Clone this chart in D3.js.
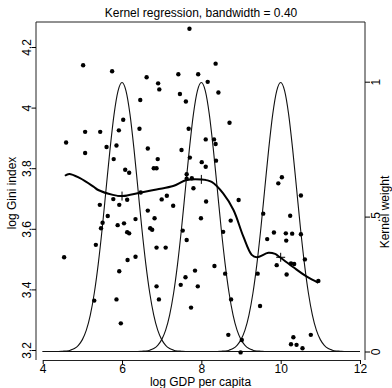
<!DOCTYPE html>
<html>
<head>
<meta charset="utf-8">
<script src="https://cdn.jsdelivr.net/npm/d3@7"></script>
<style>
  body { margin: 0; background: #fff; }
  svg { display: block; font-family: "Liberation Sans", Arial, Helvetica, sans-serif; }
  .axis text { font-size: 12px; fill: #000; }
  .axis line { stroke: #000; }
</style>
</head>
<body>
<div id="chart"></div>
<script>
// scatter: log GDP per capita vs log Gini index
var gdp = [7.70, 5.02, 5.75, 6.62, 7.42, 6.91, 6.94, 7.46, 7.61, 6.46,
           6.03, 5.07, 5.45, 5.92, 6.44, 7.68, 4.59, 5.07, 5.61, 5.86,
           6.65, 7.50, 5.79, 6.90, 6.08, 6.18, 6.80, 6.87, 7.63, 7.63,
           7.76, 7.80, 8.36, 7.92, 8.16, 8.43, 8.71, 8.11, 8.32, 8.36,
           7.71, 8.37, 8.01, 8.11, 10.03, 9.94, 10.51, 8.12, 8.94, 7.99,
           8.74, 9.56, 10.24, 7.53, 8.55, 7.63, 9.83, 9.66, 10.13, 10.29,
           10.14, 10.51, 10.61, 10.26, 10.34, 9.90, 7.84, 8.33, 7.60, 7.48,
           7.91, 8.60, 9.42, 10.15, 10.95, 7.74, 8.75, 9.48, 8.68, 9.02,
           8.99, 10.32, 10.76, 10.26, 10.40, 10.55, 5.78, 6.13, 5.44, 5.93,
           6.47, 7.00, 7.13, 7.29, 5.64, 5.51, 5.47, 5.89, 6.05, 6.34,
           6.65, 6.82, 6.71, 6.76, 6.13, 6.18, 5.34, 6.87, 7.10, 4.54,
           6.14, 6.34, 5.93, 6.87, 5.30, 5.86, 6.93, 5.97];
var gini = [4.260, 4.140, 4.120, 4.100, 4.110, 4.080, 4.060, 4.045, 4.020, 4.025,
            3.960, 3.920, 3.920, 3.925, 3.930, 3.930, 3.885, 3.850, 3.870, 3.875,
            3.865, 3.860, 3.830, 3.830, 3.795, 3.785, 3.800, 3.800, 3.780, 3.765,
            3.767, 3.734, 4.145, 4.110, 4.085, 4.050, 3.950, 3.895, 3.895, 3.880,
            3.835, 3.825, 3.820, 3.805, 3.770, 3.750, 3.710, 3.690, 3.695, 3.635,
            3.627, 3.650, 3.643, 3.594, 3.590, 3.563, 3.588, 3.566, 3.585, 3.584,
            3.561, 3.582, 3.499, 3.486, 3.484, 3.480, 3.462, 3.477, 3.440, 3.415,
            3.410, 3.452, 3.452, 3.449, 3.428, 3.340, 3.367, 3.345, 3.250, 3.233,
            3.192, 3.242, 3.250, 3.219, 3.217, 3.206, 3.698, 3.696, 3.679, 3.679,
            3.720, 3.697, 3.709, 3.676, 3.642, 3.620, 3.602, 3.612, 3.618, 3.632,
            3.660, 3.635, 3.602, 3.597, 3.589, 3.585, 3.547, 3.538, 3.538, 3.506,
            3.497, 3.508, 3.460, 3.410, 3.363, 3.367, 3.367, 3.288];

// kernel regression fit (thick line)
var fitX = [4.56, 4.67, 4.94, 5.28, 5.40, 5.77, 6.01, 6.45, 6.87, 7.29, 7.63, 7.99,
            8.26, 8.55, 8.81, 9.06, 9.27, 9.40, 9.69, 9.86, 9.98, 10.32, 10.66, 10.95];
var fitY = [3.775, 3.781, 3.767, 3.739, 3.728, 3.712, 3.708, 3.719, 3.730, 3.741, 3.761, 3.763,
            3.755, 3.717, 3.662, 3.574, 3.514, 3.506, 3.521, 3.517, 3.506, 3.473, 3.442, 3.422];

// "+" marks on the fit at the kernel centres
var markX = [6, 8, 10];
var markY = [3.708, 3.763, 3.506];

// kernel weights (bandwidth 0.40), drawn around each centre
var kernelCenters = [6, 8, 10];
var kernelOffsets = [-1.6, -1.5, -1.4, -1.3, -1.2, -1.1, -1.0, -0.9, -0.8, -0.7, -0.6, -0.5, -0.4, -0.3, -0.2, -0.1, 0,
                     0.1, 0.2, 0.3, 0.4, 0.5, 0.6, 0.7, 0.8, 0.9, 1.0, 1.1, 1.2, 1.3, 1.4, 1.5, 1.6];
var kernelWeights = [0, 0.001, 0.002, 0.005, 0.011, 0.023, 0.044, 0.079, 0.135, 0.216, 0.324, 0.456, 0.605, 0.753, 0.880, 0.966, 0.997,
                     0.966, 0.880, 0.753, 0.605, 0.456, 0.324, 0.216, 0.135, 0.079, 0.044, 0.023, 0.011, 0.005, 0.002, 0.001, 0];

var xTicks = [4, 6, 8, 10, 12];
var yTicks = [3.2, 3.4, 3.6, 3.8, 4, 4.2];
var wTicks = [0, 0.5, 1];
var wTickLabels = ["0", ".5", "1"];

var width = 392, height = 388;
var box = {left: 36, top: 22, right: 365, bottom: 360};

var x = d3.scaleLinear().domain([4, 12]).range([42.7, 360]);
var y = d3.scaleLinear().domain([3.2, 4.2]).range([350, 47]);
var yw = d3.scaleLinear().domain([0, 1]).range([351.5, 81.7]);

var svg = d3.select("#chart").append("svg")
    .attr("width", width)
    .attr("height", height);

// frame: left, top, right
svg.append("path")
    .attr("d", "M" + box.left + "," + box.bottom + "V" + box.top + "H" + box.right + "V" + box.bottom)
    .attr("fill", "none")
    .attr("stroke", "#222")
    .attr("stroke-width", 1);

// kernel curves
var kline = d3.line()
    .x(function(d) { return x(d[0]); })
    .y(function(d) { return yw(d[1]); })
    .curve(d3.curveMonotoneX);

kernelCenters.forEach(function(c) {
    var pts = [[4, 0]];
    kernelOffsets.forEach(function(o, i) { pts.push([c + o, kernelWeights[i]]); });
    pts.push([12, 0]);
    svg.append("path")
        .datum(pts)
        .attr("fill", "none")
        .attr("stroke", "#111")
        .attr("stroke-width", 1.1)
        .attr("d", kline);
});

// points
svg.append("g").selectAll("circle")
    .data(gdp)
    .enter().append("circle")
    .attr("cx", function(d) { return x(d); })
    .attr("cy", function(d, i) { return y(gini[i]); })
    .attr("r", 2.2)
    .attr("fill", "#000");

// fitted line
var fit = fitX.map(function(v, i) { return [v, fitY[i]]; });
svg.append("path")
    .datum(fit)
    .attr("fill", "none")
    .attr("stroke", "#000")
    .attr("stroke-width", 2)
    .attr("stroke-linejoin", "round")
    .attr("d", d3.line()
        .x(function(d) { return x(d[0]); })
        .y(function(d) { return y(d[1]); })
        .curve(d3.curveCatmullRom.alpha(0.5)));

// plus markers
var marks = svg.append("g").selectAll("g")
    .data(markX)
    .enter().append("g")
    .attr("transform", function(d, i) { return "translate(" + x(d) + "," + y(markY[i]) + ")"; });
marks.append("line").attr("x1", -4.5).attr("x2", 4.5).attr("stroke", "#000");
marks.append("line").attr("y1", -4.5).attr("y2", 4.5).attr("stroke", "#000");

// x axis
var xAxis = svg.append("g")
    .attr("class", "axis")
    .attr("transform", "translate(0," + box.bottom + ")")
    .call(d3.axisBottom(x).tickValues(xTicks).tickSize(4).tickSizeOuter(0).tickFormat(d3.format("d")));
xAxis.select(".domain").attr("stroke", "#222");
xAxis.selectAll("text").attr("y", 13).attr("dy", 0);

// left axis
var yAxis = svg.append("g")
    .attr("class", "axis")
    .attr("transform", "translate(" + box.left + ",0)")
    .call(d3.axisLeft(y).tickValues(yTicks).tickSize(4.5).tickFormat(function(d) { return String(d); }));
yAxis.select(".domain").remove();
yAxis.selectAll("text")
    .attr("transform", "rotate(-90)")
    .attr("x", 0).attr("y", -5.5).attr("dy", 0)
    .style("text-anchor", "middle");

// right axis
var wAxis = svg.append("g")
    .attr("class", "axis")
    .attr("transform", "translate(" + box.right + ",0)")
    .call(d3.axisRight(yw).tickValues(wTicks).tickSize(5).tickFormat(function(d, i) { return wTickLabels[i]; }));
wAxis.select(".domain").remove();
wAxis.selectAll("text")
    .attr("transform", "rotate(-90)")
    .attr("x", 0).attr("y", 15).attr("dy", 0)
    .style("text-anchor", "middle");

// titles
svg.append("text")
    .attr("x", 201).attr("y", 17)
    .style("text-anchor", "middle")
    .style("font-size", "12px")
    .text("Kernel regression, bandwidth = 0.40");

svg.append("text")
    .attr("x", 200.5).attr("y", 385.5)
    .style("text-anchor", "middle")
    .style("font-size", "12px")
    .text("log GDP per capita");

svg.append("text")
    .attr("transform", "translate(15.5,193) rotate(-90)")
    .style("text-anchor", "middle")
    .style("font-size", "12px")
    .text("log Gini index");

svg.append("text")
    .attr("transform", "translate(389,212) rotate(-90)")
    .style("text-anchor", "middle")
    .style("font-size", "12px")
    .text("Kernel weight");
</script>
</body>
</html>
